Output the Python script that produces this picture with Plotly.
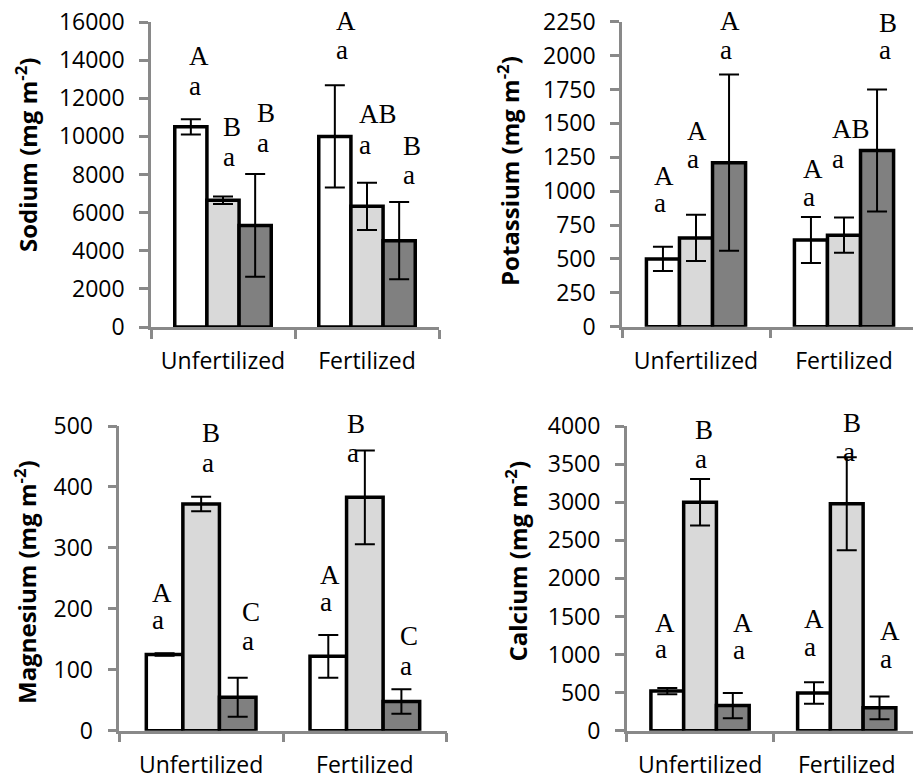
import plotly.graph_objects as go

# ---------------- data ----------------
groups = ["Unfertilized", "Fertilized"]
series_names = ["Series 1", "Series 2", "Series 3"]
series_colors = ["#ffffff", "#d9d9d9", "#808080"]

sodium_vals = [[10500, 10000], [6650, 6330], [5330, 4530]]
sodium_err = [[400, 2680], [200, 1240], [2700, 2030]]
potassium_vals = [[500, 640], [655, 675], [1210, 1300]]
potassium_err = [[90, 170], [170, 130], [650, 450]]
magnesium_vals = [[125, 122], [372, 383], [55, 48]]
magnesium_err = [[2, 35], [12, 77], [32, 20]]
calcium_vals = [[520, 495], [3000, 2980], [330, 300]]
calcium_err = [[40, 140], [305, 610], [165, 150]]

# significance letters per bar: [series][group]
sodium_upper = [["A", "A"], ["B", "AB"], ["B", "B"]]
potassium_upper = [["A", "A"], ["A", "AB"], ["A", "B"]]
magnesium_upper = [["A", "A"], ["B", "B"], ["C", "C"]]
calcium_upper = [["A", "A"], ["B", "B"], ["A", "A"]]
lower_letter = "a"

# letter heights (data units)
sodium_upper_y = [[14217, 16062], [10508, 11156], [11210, 9486]]
sodium_lower_y = [[12485, 14374], [8777, 9400], [9478, 7817]]
potassium_upper_y = [[1113, 1162], [1447, 1455], [2256, 2244]]
potassium_lower_y = [[888, 935], [1214, 1217], [2019, 2017]]
magnesium_upper_y = [[226, 256], [488, 503], [195, 155]]
magnesium_lower_y = [[176, 206], [435, 450], [143, 102]]
calcium_upper_y = [[1420, 1470], [3954, 4035], [1410, 1305]]
calcium_lower_y = [[1031, 1059], [3525, 3619], [1016, 899]]

# y axis tick settings
sodium_ticks = (16000, 2000)
potassium_ticks = (2250, 250)
magnesium_ticks = (500, 100)
calcium_ticks = (4000, 500)

titles = ["Sodium", "Potassium", "Magnesium", "Calcium"]

# ---------------- style ----------------
W, H = 913, 781
AXIS_GREY = "#898989"
BARGAP = 0.33
TICK_FONT = dict(family="Open Sans", size=23, color="#000000")
LETTER_FONT = dict(family="Liberation Serif", size=27, color="#000000")
TITLE_FONT = dict(family="Open Sans", size=24, color="#000000")

# panel geometry in pixels: x0 (axis), category width, y top px, y bottom px
panels = [
    dict(vals=sodium_vals, err=sodium_err, up=sodium_upper, upy=sodium_upper_y,
         loy=sodium_lower_y, ticks=sodium_ticks, title=titles[0],
         x0=151, cw=144, ytop=22, ybot=327,
         dx=[[-2, 1], [0, -8], [2, 4]], tpos=(26, 155)),
    dict(vals=potassium_vals, err=potassium_err, up=potassium_upper, upy=potassium_upper_y,
         loy=potassium_lower_y, ticks=potassium_ticks, title=titles[1],
         x0=622, cw=148, ytop=21.7, ybot=326.7,
         dx=[[-9, -8], [-9, -12], [-9, 2]], tpos=(508, 171)),
    dict(vals=magnesium_vals, err=magnesium_err, up=magnesium_upper, upy=magnesium_upper_y,
         loy=magnesium_lower_y, ticks=magnesium_ticks, title=titles[2],
         x0=119.3, cw=163.7, ytop=426, ybot=730.7,
         dx=[[-13, -8], [1, -18], [4, -1]], tpos=(25, 582)),
    dict(vals=calcium_vals, err=calcium_err, up=calcium_upper, upy=calcium_upper_y,
         loy=calcium_lower_y, ticks=calcium_ticks, title=titles[3],
         x0=626.7, cw=146.7, ytop=426, ybot=730.7,
         dx=[[-12, -9.5], [-5, -4], [0, 0]], tpos=(516, 561.5)),
]

fig = go.Figure()
annotations = []
bw = (1 - BARGAP) / 3

for k, p in enumerate(panels):
    sfx = "" if k == 0 else str(k + 1)
    xa, ya = "x" + sfx, "y" + sfx
    xend = min(p["x0"] + 2 * p["cw"], W)
    xr_end = -0.5 + (xend - p["x0"]) / p["cw"]
    ymax, dt = p["ticks"]
    for j in range(3):
        fig.add_trace(go.Bar(
            x=groups, y=p["vals"][j], name=series_names[j],
            marker=dict(color=series_colors[j], line=dict(color="black", width=3.5)),
            error_y=dict(type="data", array=p["err"][j], color="black",
                         thickness=2, width=10),
            xaxis=xa, yaxis=ya, showlegend=False,
        ))
        for g in range(2):
            xc = g + (j - 1) * bw
            xd = (xc + 0.5) / (xr_end + 0.5)
            for txt, yv, ysh in ((p["up"][j][g], p["upy"][j][g], 0),
                                 (lower_letter, p["loy"][j][g], 3)):
                annotations.append(dict(
                    x=xd, y=yv / ymax, xref=xa + " domain", yref=ya + " domain",
                    text=txt, xanchor="left", yanchor="middle",
                    xshift=p["dx"][j][g] - 2, yshift=ysh,
                    showarrow=False, font=LETTER_FONT))
    # axes
    fig.layout["xaxis" + sfx] = dict(
        domain=[p["x0"] / W, xend / W], range=[-0.5, xr_end], anchor=ya,
        type="category", tickson="boundaries", ticks="outside", ticklen=9,
        tickwidth=2.5, tickcolor=AXIS_GREY, showline=True, linecolor=AXIS_GREY,
        linewidth=2.5, showgrid=False, tickfont=TICK_FONT, ticklabelstandoff=12,
        automargin=False, fixedrange=True)
    fig.layout["yaxis" + sfx] = dict(
        domain=[1 - p["ybot"] / H, 1 - p["ytop"] / H], range=[0, ymax], dtick=dt,
        tickformat="d", anchor=xa, ticks="outside", ticklen=9, tickwidth=2.5,
        tickcolor=AXIS_GREY, showline=True, linecolor=AXIS_GREY, linewidth=2.5,
        showgrid=False, zeroline=False, tickfont=TICK_FONT, ticklabelstandoff=10,
        automargin=False, fixedrange=True)
    annotations.append(dict(
        x=p["tpos"][0] / W, y=1 - p["tpos"][1] / H, xref="paper", yref="paper",
        text="<b>%s (mg m<sup>-2</sup>)</b>" % p["title"], textangle=-90,
        xanchor="center", yanchor="middle", showarrow=False, font=TITLE_FONT))

fig.update_layout(
    width=W, height=H, margin=dict(l=0, r=0, t=0, b=0, autoexpand=False),
    paper_bgcolor="white", plot_bgcolor="white",
    barmode="group", bargap=BARGAP, bargroupgap=0,
    annotations=annotations,
)

fig.write_html("out.html")
